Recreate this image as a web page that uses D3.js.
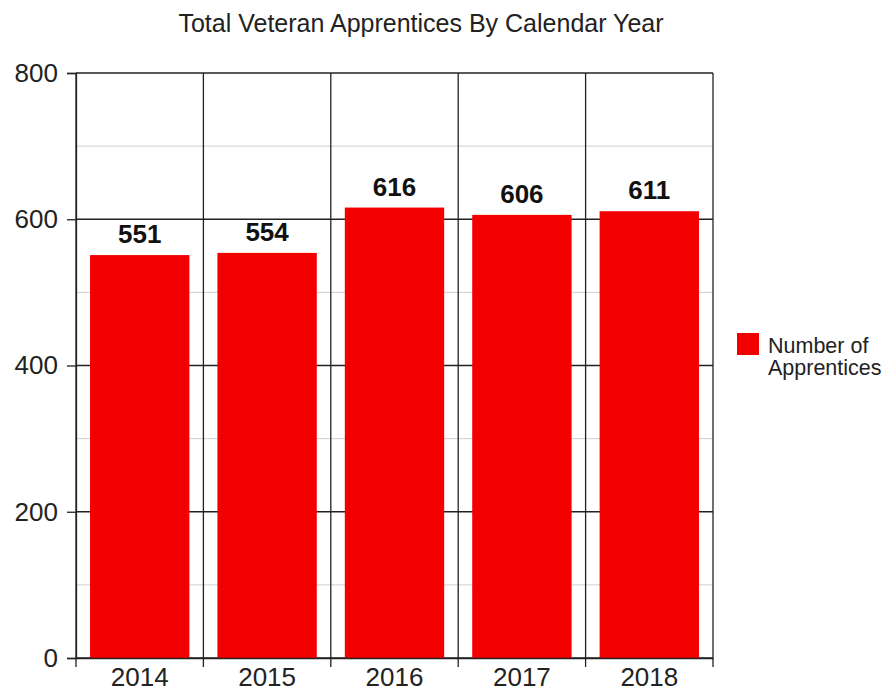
<!DOCTYPE html>
<html>
<head>
<meta charset="utf-8">
<script src="https://cdn.jsdelivr.net/npm/d3@7"></script>
<style>
  body { margin: 0; background: #fff; }
  svg { font-family: "Liberation Sans", Arial, sans-serif; }
</style>
</head>
<body>
<div id="chart"></div>
<script>
const years = ["2014", "2015", "2016", "2017", "2018"];
const apprentices = [551, 554, 616, 606, 611];
const yTicks = [0, 200, 400, 600, 800];
const yMinorTicks = [100, 300, 500, 700];
const seriesName = ["Number of", "Apprentices"];
const title = "Total Veteran Apprentices By Calendar Year";

// setup canvas
var svg_width = 887;
var svg_height = 691;
var svg = d3.select("#chart").append("svg")
  .attr("width", svg_width)
  .attr("height", svg_height);
var margin = {top: 73, right: 174, bottom: 33, left: 76};
var chart_width = svg_width - margin.left - margin.right;
var chart_height = svg_height - margin.top - margin.bottom;

var chart_area = svg.append("g")
  .attr("transform", "translate(" + margin.left + "," + margin.top + ")");

var x = d3.scaleBand()
  .domain(years)
  .range([0, chart_width])
  .paddingInner(0.22)
  .paddingOuter(0.11);

var y = d3.scaleLinear()
  .domain([0, 800])
  .range([chart_height, 0]);

// minor gridlines
chart_area.append("g").selectAll("line")
  .data(yMinorTicks)
  .enter().append("line")
    .attr("x1", 0).attr("x2", chart_width)
    .attr("y1", function(d) { return y(d); })
    .attr("y2", function(d) { return y(d); })
    .attr("stroke", "#cfcfcf")
    .attr("stroke-width", 1);

// major gridlines
chart_area.append("g").selectAll("line")
  .data(yTicks)
  .enter().append("line")
    .attr("x1", 0).attr("x2", chart_width)
    .attr("y1", function(d) { return y(d); })
    .attr("y2", function(d) { return y(d); })
    .attr("stroke", "#222")
    .attr("stroke-width", 1.3);

// category separators
var step = x.step();
var bounds = years.map(function(d) { return x(d) - x.paddingInner() * step / 2; })
  .concat([chart_width]);
chart_area.append("g").selectAll("line")
  .data(bounds)
  .enter().append("line")
    .attr("x1", function(d) { return d; })
    .attr("x2", function(d) { return d; })
    .attr("y1", 0).attr("y2", chart_height + 9)
    .attr("stroke", "#222")
    .attr("stroke-width", 1.3);

// bars
chart_area.append("g").selectAll("rect")
  .data(apprentices)
  .enter().append("rect")
    .attr("x", function(d, i) { return x(years[i]); })
    .attr("y", function(d) { return y(d); })
    .attr("width", x.bandwidth())
    .attr("height", function(d) { return chart_height - y(d); })
    .attr("fill", "#f20000");

// value labels
chart_area.append("g").selectAll("text")
  .data(apprentices)
  .enter().append("text")
    .attr("x", function(d, i) { return x(years[i]) + x.bandwidth() / 2; })
    .attr("y", function(d) { return y(d) - 12; })
    .attr("text-anchor", "middle")
    .attr("font-size", "26px")
    .attr("font-weight", "bold")
    .attr("fill", "#111")
    .text(function(d) { return d; });

// y-axis
var yAxis = chart_area.append("g")
  .call(d3.axisLeft(y).tickValues(yTicks).tickSize(9).tickPadding(9).tickFormat(d3.format("d")));
yAxis.select(".domain").attr("stroke", "#222").attr("stroke-width", 1.3);
yAxis.selectAll(".tick line").attr("stroke", "#222").attr("stroke-width", 1.3);
yAxis.selectAll("text").attr("font-size", "26px").attr("fill", "#222")
  .attr("font-family", "Liberation Sans, Arial, sans-serif");

// x-axis labels
var xAxis = chart_area.append("g")
  .attr("transform", "translate(0," + chart_height + ")")
  .call(d3.axisBottom(x).tickSize(0).tickPadding(10));
xAxis.select(".domain").attr("stroke", "#222").attr("stroke-width", 1.3);
xAxis.selectAll("text").attr("font-size", "26px").attr("fill", "#222")
  .attr("font-family", "Liberation Sans, Arial, sans-serif");

// title
svg.append("text")
  .attr("x", 421)
  .attr("y", 32)
  .attr("text-anchor", "middle")
  .attr("font-size", "25px")
  .attr("fill", "#222")
  .text(title);

// legend
var legend = svg.append("g")
  .attr("transform", "translate(737,333)");
legend.append("rect")
  .attr("width", 22).attr("height", 22)
  .attr("fill", "#f20000");
legend.append("text")
  .attr("x", 31)
  .attr("y", 20)
  .attr("font-size", "21.5px")
  .attr("fill", "#222")
  .selectAll("tspan")
  .data(seriesName)
  .enter().append("tspan")
    .attr("x", 31)
    .attr("dy", function(d, i) { return i === 0 ? 0 : 22; })
    .text(function(d) { return d; });
</script>
</body>
</html>
